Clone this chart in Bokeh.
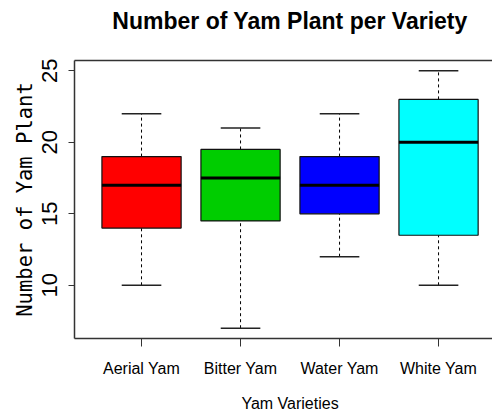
from bokeh.plotting import figure
from bokeh.models import Range1d, LinearAxis, FixedTicker
from bokeh.embed import file_html
from bokeh.resources import INLINE

# ---- data ----
varieties = ["Aerial Yam", "Bitter Yam", "Water Yam", "White Yam"]
lower = [10, 7, 12, 10]
q1 = [14, 14.5, 15, 13.5]
median = [17, 17.5, 17, 20]
q3 = [19, 19.5, 19, 23]
upper = [22, 21, 22, 25]
colors = ["#FF0000", "#00CD00", "#0000FF", "#00FFFF"]
y_ticks = [10, 15, 20, 25]

title_text = "Number of Yam Plant per Variety"
x_title = "Yam Varieties"
y_title = "Number of Yam Plant"

# ---- layout ----
W, H = 492, 417
LEFT, TOP, BOTTOM = 74, 60, 79
X_START, X_END = 0.323, 4.545
R_XLIM = (0.34, 4.66)          # full plot region of the original (continues past the window)
X_MID = (R_XLIM[0] + R_XLIM[1]) / 2
Y_START, Y_END = 6.28, 25.72
BOX_W = 0.8
CAP_W = 0.4
AXIS_COL = "#333333"
SANS = "Liberation Sans"

pos = [i + 1 for i in range(len(varieties))]

p = figure(width=W, height=H, x_range=Range1d(X_START, X_END), y_range=Range1d(Y_START, Y_END),
           output_backend="svg", toolbar_location=None,
           min_border_left=LEFT, min_border_right=0, min_border_top=TOP, min_border_bottom=BOTTOM)
p.outline_line_color = None
p.xgrid.visible = False
p.ygrid.visible = False
p.background_fill_color = "white"
p.border_fill_color = "white"

# whiskers
p.segment(x0=pos, x1=pos, y0=q3, y1=upper, line_color="black", line_width=1, line_dash="3 3")
p.segment(x0=pos, x1=pos, y0=lower, y1=q1, line_color="black", line_width=1, line_dash="3 3")
# caps
p.segment(x0=[x - CAP_W / 2 for x in pos], x1=[x + CAP_W / 2 for x in pos], y0=upper, y1=upper,
          line_color="#222222", line_width=1.5)
p.segment(x0=[x - CAP_W / 2 for x in pos], x1=[x + CAP_W / 2 for x in pos], y0=lower, y1=lower,
          line_color="#222222", line_width=1.5)
# boxes
p.vbar(x=pos, width=BOX_W, bottom=q1, top=q3, fill_color=colors, line_color="#111111", line_width=1.2)
# medians
p.segment(x0=[x - BOX_W / 2 for x in pos], x1=[x + BOX_W / 2 for x in pos], y0=median, y1=median,
          line_color="black", line_width=3)

# bottom axis with the category labels
xa = p.xaxis[0]
xa.ticker = FixedTicker(ticks=pos)
xa.major_label_overrides = {x: name for x, name in zip(pos, varieties)}
xa.major_tick_in = 0
xa.major_tick_out = 8
xa.minor_tick_line_color = None
xa.axis_line_color = AXIS_COL
xa.axis_line_width = 1.5
xa.major_tick_line_color = AXIS_COL
xa.major_label_standoff = 13
xa.major_label_text_font = SANS
xa.major_label_text_font_size = "16px"
xa.major_label_text_color = "black"

# x title, centred on the original plot region
x_title_axis = LinearAxis(ticker=FixedTicker(ticks=[X_MID]), major_label_overrides={X_MID: x_title},
                          axis_line_color=None, major_tick_line_color=None, minor_tick_line_color=None,
                          major_tick_in=0, major_tick_out=0, minor_tick_in=0, minor_tick_out=0,
                          major_label_standoff=15, major_label_text_font=SANS,
                          major_label_text_font_size="16px", major_label_text_color="black")
p.add_layout(x_title_axis, "below")

ya = p.yaxis[0]
ya.ticker = FixedTicker(ticks=y_ticks)
ya.major_label_orientation = "vertical"
ya.major_tick_in = 0
ya.major_tick_out = 6
ya.minor_tick_line_color = None
ya.axis_line_color = AXIS_COL
ya.axis_line_width = 1.5
ya.major_tick_line_color = AXIS_COL
ya.major_label_standoff = 11
ya.major_label_text_font = SANS
ya.major_label_text_font_size = "22px"
ya.major_label_text_color = "black"
ya.axis_label = y_title
ya.axis_label_text_font = "DejaVu Sans Mono"
ya.axis_label_text_font_size = "20.5px"
ya.axis_label_text_font_style = "normal"
ya.axis_label_text_color = "black"
ya.axis_label_standoff = 3

# top border line carrying the chart title, centred on the original plot region
top_axis = LinearAxis(ticker=FixedTicker(ticks=[X_MID]), major_label_overrides={X_MID: title_text},
                      axis_line_color=AXIS_COL, axis_line_width=1.5,
                      major_tick_in=0, major_tick_out=0, minor_tick_in=0, minor_tick_out=0,
                      major_tick_line_color=None, minor_tick_line_color=None,
                      major_label_standoff=27, major_label_text_font=SANS,
                      major_label_text_font_style="bold", major_label_text_font_size="23px",
                      major_label_text_color="black")
p.add_layout(top_axis, "above")

open("out.html", "w").write(file_html(p, INLINE))
